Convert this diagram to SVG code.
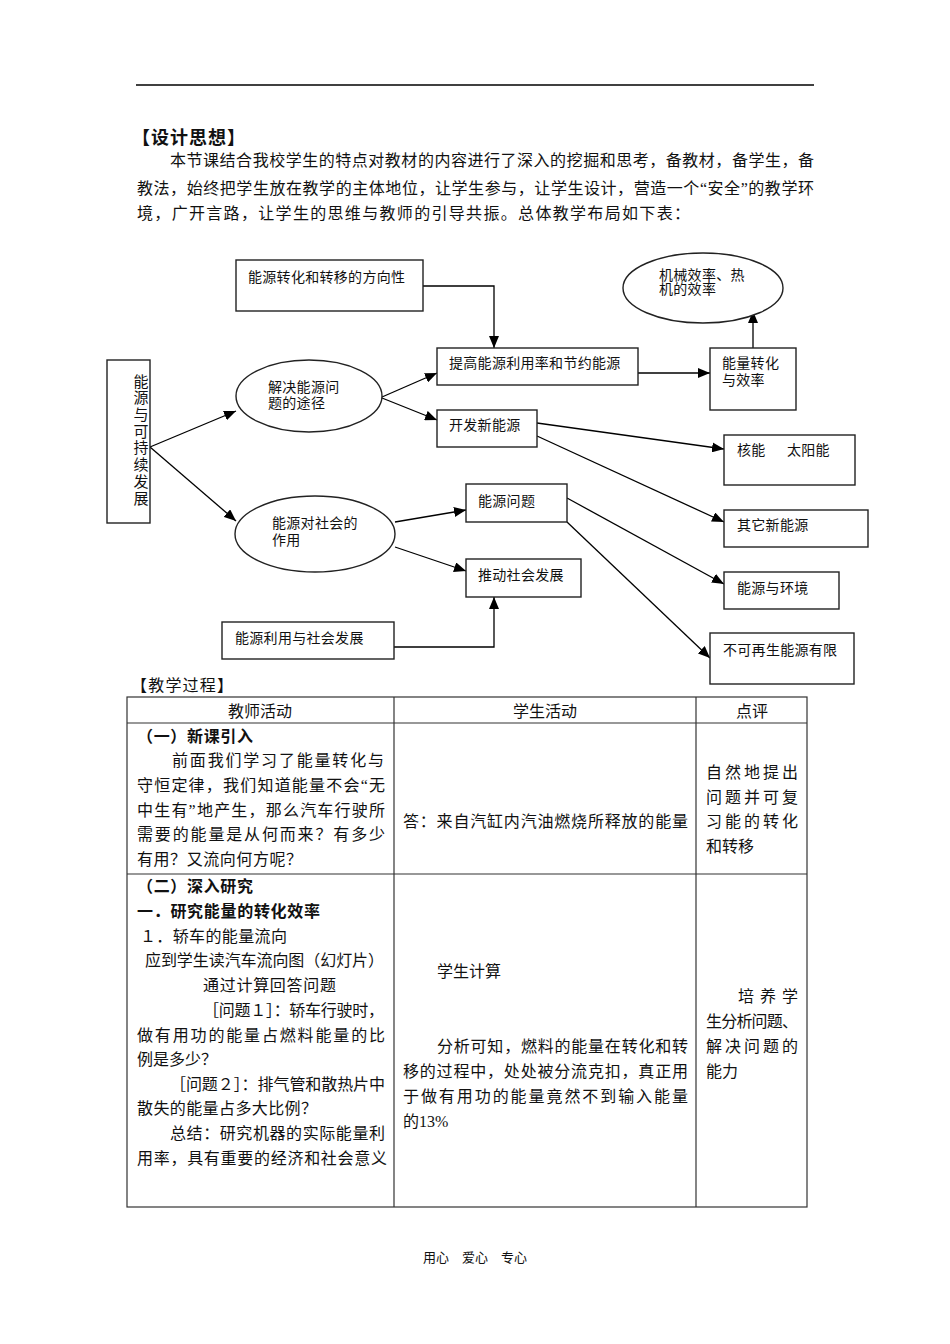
<svg xmlns="http://www.w3.org/2000/svg" width="950" height="1344" viewBox="0 0 950 1344">
<defs>
<marker id="ah" markerUnits="userSpaceOnUse" markerWidth="12" markerHeight="10" refX="12" refY="5" orient="auto">
<path d="M0,0 L12,5 L0,10 Z" fill="#000"/>
</marker>
<style>
text{font-family:"Liberation Serif","Noto Sans CJK SC",serif;fill:#111}
.b{font-size:16px}
.h{font-size:16px;font-weight:bold}
.d{font-size:14px;letter-spacing:0.3px}
.v{font-size:15px}
.box{fill:#fff;stroke:#222;stroke-width:1.4}
.conn{fill:none;stroke:#000;stroke-width:1.3}
.tb{fill:none;stroke:#333;stroke-width:1.2}
</style>
</defs>
<rect width="950" height="1344" fill="#fff"/>
<line x1="136" y1="85" x2="814" y2="85" stroke="#000" stroke-width="1.5"/>

<g id="intro">
<text x="132" y="144" style="font-size:18px;font-weight:bold" textLength="113">【设计思想】</text>
<text class="b" x="170" y="166" textLength="644">本节课结合我校学生的特点对教材的内容进行了深入的挖掘和思考，备教材，备学生，备</text>
<text class="b" x="137" y="194" textLength="677">教法，始终把学生放在教学的主体地位，让学生参与，让学生设计，营造一个“安全”的教学环</text>
<text class="b" x="137" y="219" textLength="553">境，广开言路，让学生的思维与教师的引导共振。总体教学布局如下表：</text>
</g>

<g id="connectors">
<polyline class="conn" points="423,286 494,286 494,348" marker-end="url(#ah)"/>
<line class="conn" x1="150" y1="447" x2="236" y2="411" marker-end="url(#ah)"/>
<line class="conn" x1="150" y1="447" x2="236" y2="521" marker-end="url(#ah)"/>
<line class="conn" x1="382" y1="397" x2="437" y2="373" marker-end="url(#ah)"/>
<line class="conn" x1="382" y1="398" x2="437" y2="420" marker-end="url(#ah)"/>
<line class="conn" x1="638" y1="373" x2="710" y2="373" marker-end="url(#ah)"/>
<line class="conn" x1="753" y1="348" x2="753" y2="311" marker-end="url(#ah)"/>
<line class="conn" x1="537" y1="423" x2="724" y2="449" marker-end="url(#ah)"/>
<line class="conn" x1="537" y1="436" x2="724" y2="522" marker-end="url(#ah)"/>
<line class="conn" x1="395" y1="522" x2="466" y2="510" marker-end="url(#ah)"/>
<line class="conn" x1="395" y1="547" x2="466" y2="571" marker-end="url(#ah)"/>
<polyline class="conn" points="394,647 494,647 494,597" marker-end="url(#ah)"/>
<line class="conn" x1="567" y1="498" x2="724" y2="584" marker-end="url(#ah)"/>
<line class="conn" x1="567" y1="522" x2="710" y2="658" marker-end="url(#ah)"/>
</g>

<g id="n-direction"><rect class="box" x="236" y="260" width="187" height="51"/><text class="d" x="248" y="282">能源转化和转移的方向性</text></g>
<g id="n-main"><rect class="box" x="107" y="360" width="43" height="163"/>
<text class="v" text-anchor="middle"><tspan x="141" y="387">能</tspan><tspan x="141" y="403">源</tspan><tspan x="141" y="420">与</tspan><tspan x="141" y="437">可</tspan><tspan x="141" y="453">持</tspan><tspan x="141" y="470">续</tspan><tspan x="141" y="487">发</tspan><tspan x="141" y="504">展</tspan></text></g>
<g id="n-solve"><ellipse class="box" cx="309" cy="396" rx="73" ry="36"/><text class="d" x="268" y="392">解决能源问</text><text class="d" x="268" y="408">题的途径</text></g>
<g id="n-improve"><rect class="box" x="437" y="348" width="201" height="37"/><text class="d" x="449" y="368">提高能源利用率和节约能源</text></g>
<g id="n-develop"><rect class="box" x="437" y="410" width="100" height="37"/><text class="d" x="449" y="430">开发新能源</text></g>
<g id="n-conv"><rect class="box" x="710" y="348" width="86" height="62"/><text class="d" x="722" y="368">能量转化</text><text class="d" x="722" y="385">与效率</text></g>
<g id="n-mech"><ellipse class="box" cx="703" cy="288" rx="80" ry="35"/><text class="d" x="659" y="280">机械效率、热</text><text class="d" x="659" y="294">机的效率</text></g>
<g id="n-nuclear"><rect class="box" x="724" y="435" width="131" height="50"/><text class="d" x="737" y="455">核能</text><text class="d" x="787" y="455">太阳能</text></g>
<g id="n-other"><rect class="box" x="724" y="510" width="144" height="37"/><text class="d" x="737" y="530">其它新能源</text></g>
<g id="n-society"><ellipse class="box" cx="315" cy="534" rx="80" ry="38"/><text class="d" x="272" y="528">能源对社会的</text><text class="d" x="272" y="545">作用</text></g>
<g id="n-problem"><rect class="box" x="466" y="484" width="101" height="38"/><text class="d" x="478" y="506">能源问题</text></g>
<g id="n-push"><rect class="box" x="466" y="559" width="115" height="38"/><text class="d" x="478" y="580">推动社会发展</text></g>
<g id="n-use"><rect class="box" x="222" y="622" width="172" height="37"/><text class="d" x="235" y="643">能源利用与社会发展</text></g>
<g id="n-env"><rect class="box" x="724" y="572" width="115" height="37"/><text class="d" x="737" y="593">能源与环境</text></g>
<g id="n-limit"><rect class="box" x="710" y="633" width="144" height="51"/><text class="d" x="723" y="655">不可再生能源有限</text></g>

<g id="table">
<text class="b" x="131" y="691" textLength="102">【教学过程】</text>
<rect class="tb" x="127" y="697" width="680" height="510"/>
<line class="tb" x1="394" y1="697" x2="394" y2="1207"/>
<line class="tb" x1="696" y1="697" x2="696" y2="1207"/>
<line class="tb" x1="127" y1="723" x2="807" y2="723"/>
<line class="tb" x1="127" y1="874" x2="807" y2="874"/>
<text class="b" x="260" y="717" text-anchor="middle">教师活动</text>
<text class="b" x="545" y="717" text-anchor="middle">学生活动</text>
<text class="b" x="752" y="717" text-anchor="middle">点评</text>

<text class="h" x="137" y="742" textLength="116">（一）新课引入</text>
<text class="b" x="172" y="766" textLength="212">前面我们学习了能量转化与</text>
<text class="b" x="137" y="791" textLength="248">守恒定律，我们知道能量不会“无</text>
<text class="b" x="137" y="816" textLength="248">中生有”地产生，那么汽车行驶所</text>
<text class="b" x="137" y="840" textLength="248">需要的能量是从何而来？有多少</text>
<text class="b" x="137" y="865" textLength="165">有用？又流向何方呢？</text>
<text class="b" x="403" y="827" textLength="285">答：来自汽缸内汽油燃烧所释放的能量</text>
<text class="b" x="706" y="778" textLength="92">自然地提出</text>
<text class="b" x="706" y="803" textLength="92">问题并可复</text>
<text class="b" x="706" y="827" textLength="92">习能的转化</text>
<text class="b" x="706" y="852">和转移</text>

<text class="h" x="137" y="892" textLength="116">（二）深入研究</text>
<text class="h" x="137" y="917" textLength="183">一．研究能量的转化效率</text>
<text class="b" x="140" y="942" textLength="147">１．轿车的能量流向</text>
<text class="b" x="145" y="966" textLength="239">应到学生读汽车流向图（幻灯片）</text>
<text class="b" x="203" y="991" textLength="133">通过计算回答问题</text>
<text class="b" x="203" y="1016" textLength="181">［问题１］：轿车行驶时，</text>
<text class="b" x="137" y="1041" textLength="248">做有用功的能量占燃料能量的比</text>
<text class="b" x="137" y="1065">例是多少？</text>
<text class="b" x="170" y="1090" textLength="215">［问题２］：排气管和散热片中</text>
<text class="b" x="137" y="1114" textLength="180">散失的能量占多大比例？</text>
<text class="b" x="170" y="1139" textLength="215">总结：研究机器的实际能量利</text>
<text class="b" x="137" y="1164" textLength="250">用率，具有重要的经济和社会意义</text>

<text class="b" x="437" y="977">学生计算</text>
<text class="b" x="437" y="1052" textLength="251">分析可知，燃料的能量在转化和转</text>
<text class="b" x="403" y="1077" textLength="285">移的过程中，处处被分流克扣，真正用</text>
<text class="b" x="403" y="1102" textLength="285">于做有用功的能量竟然不到输入能量</text>
<text class="b" x="403" y="1127">的13%</text>

<text class="b" x="738" y="1002" textLength="60">培养学</text>
<text class="b" x="706" y="1027" textLength="92">生分析问题、</text>
<text class="b" x="706" y="1052" textLength="92">解决问题的</text>
<text class="b" x="706" y="1077">能力</text>
</g>

<g id="footer"><text x="475" y="1262" text-anchor="middle" style="font-size:13px">用心　爱心　专心</text></g>
</svg>
